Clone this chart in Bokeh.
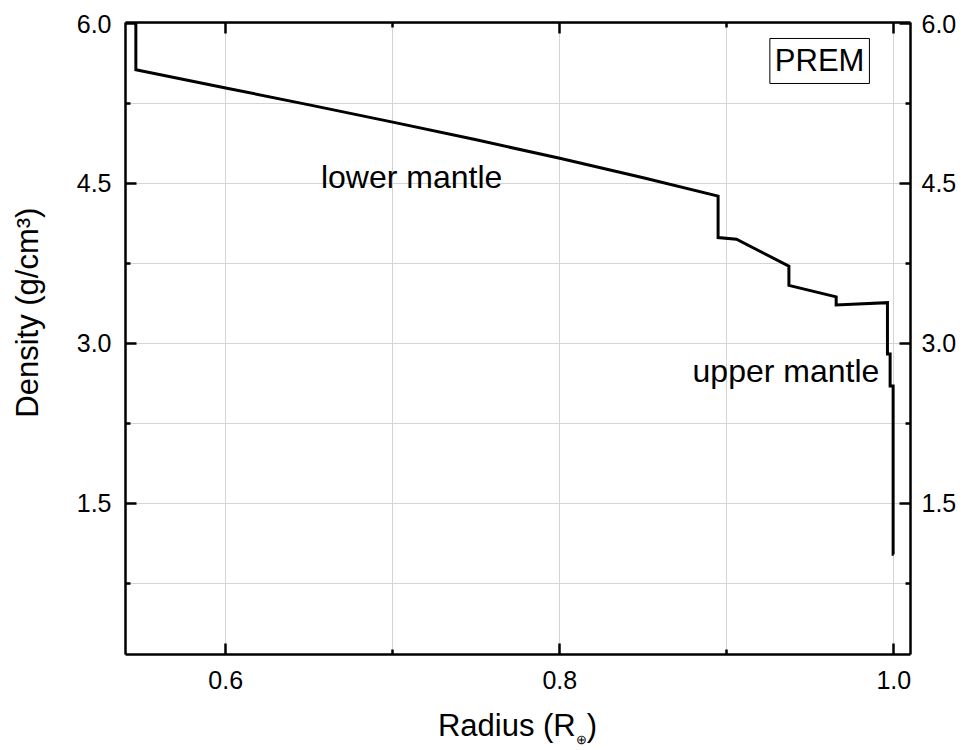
from bokeh.plotting import figure
from bokeh.layouts import column
from bokeh.models import (LinearAxis, FixedTicker, PrintfTickFormatter, Label,
                          Range1d, Div)
from bokeh.embed import file_html
from bokeh.resources import INLINE

# PREM density profile, outer part of the Earth (core-mantle boundary to surface)
radius = [0.5462, 0.5462, 0.6, 0.65, 0.7, 0.75, 0.8, 0.85, 0.8948, 0.8948,
          0.9058, 0.9372, 0.9372, 0.9655, 0.9655, 0.9962, 0.9962, 0.9978,
          0.9978, 0.9996, 0.9996, 1.0]
density = [9.90, 5.566, 5.396, 5.237, 5.075, 4.909, 4.736, 4.554, 4.381, 3.992,
           3.976, 3.724, 3.543, 3.436, 3.360, 3.381, 2.900, 2.900,
           2.600, 2.600, 1.020, 1.020]

x_major = [0.6, 0.8, 1.0]
x_minor = [0.7, 0.9]
y_major = [1.5, 3.0, 4.5, 6.0]
y_minor = [0.75, 2.25, 3.75, 5.25]

FONT = "Liberation Sans"
TICK_SIZE = "25px"
TITLE_SIZE = "31px"
NOTE_SIZE = "32px"
GRID = "#d4d4d4"
NBSP = "\u00a0"

p = figure(frame_width=785, frame_height=632,
           x_range=Range1d(0.54, 1.01), y_range=Range1d(0.08, 6.01),
           output_backend="svg", toolbar_location=None,
           x_axis_location=None, y_axis_location=None,
           min_border_left=125, min_border_right=56,
           min_border_top=22, min_border_bottom=54,
           background_fill_color="white", border_fill_color="white")
p.outline_line_color = None

xt = FixedTicker(ticks=x_major, minor_ticks=x_minor)
yt = FixedTicker(ticks=y_major, minor_ticks=y_minor)


def style_axis(ax, labels=True):
    ax.axis_line_width = 2.5
    ax.axis_line_color = "black"
    ax.major_tick_line_width = 2.5
    ax.minor_tick_line_width = 2.5
    ax.major_tick_in = 11
    ax.major_tick_out = 0
    ax.minor_tick_in = 5
    ax.minor_tick_out = 0
    ax.formatter = PrintfTickFormatter(format="%.1f")
    ax.major_label_text_font = FONT
    ax.major_label_text_font_size = TICK_SIZE
    ax.major_label_text_color = "black" if labels else None
    ax.axis_label_text_font = FONT
    ax.axis_label_text_font_size = TITLE_SIZE
    ax.axis_label_text_font_style = "normal"
    ax.axis_label_text_color = "black"


# the y title sits a little above the frame centre: pad its start
left = LinearAxis(ticker=yt, axis_label=NBSP * 6 + "Density (g/cm³)")
style_axis(left)
left.major_label_standoff = 14
left.axis_label_standoff = 29
right = LinearAxis(ticker=yt)
style_axis(right)
right.major_label_standoff = 11
bottom = LinearAxis(ticker=xt)
style_axis(bottom)
bottom.major_label_standoff = 16
top = LinearAxis(ticker=xt)
style_axis(top, labels=False)
top.major_label_text_font_size = "0px"
top.major_label_standoff = 0

p.add_layout(left, "left")
p.add_layout(right, "right")
p.add_layout(bottom, "below")
p.add_layout(top, "above")

p.xgrid.ticker = xt
p.ygrid.ticker = yt
for g in (p.xgrid, p.ygrid):
    g.grid_line_color = GRID
    g.grid_line_width = 1
    g.minor_grid_line_color = GRID
    g.minor_grid_line_width = 1

p.line(radius, density, line_color="black", line_width=3, line_join="miter")

# region labels
p.add_layout(Label(x=0.657, y=4.565, text="lower mantle", text_font=FONT,
                   text_font_size=NOTE_SIZE, text_color="black",
                   text_baseline="alphabetic"))
p.add_layout(Label(x=0.8795, y=2.74, text="upper mantle", text_font=FONT,
                   text_font_size=NOTE_SIZE, text_color="black",
                   text_baseline="alphabetic"))
p.add_layout(Label(x=0.9258, y=5.649, text="PREM", text_font=FONT,
                   text_font_size="31px", text_color="black",
                   text_baseline="alphabetic", padding=5,
                   border_line_color="black", border_line_width=1,
                   background_fill_color="white"))

# x-axis title (with subscript Earth symbol), centred under the frame
xtitle = Div(
    text='Radius (R<sub style="font-size:13px; line-height:0; '
         'vertical-align:-8px;">⊕</sub>)',
    width=785, height=42, margin=(0, 56, 0, 125),
    styles={"font-family": FONT, "font-size": TITLE_SIZE,
            "line-height": "36px", "text-align": "center",
            "color": "black", "width": "785px"})

layout = column(p, xtitle, spacing=0)

open("out.html", "w").write(file_html(layout, INLINE))
